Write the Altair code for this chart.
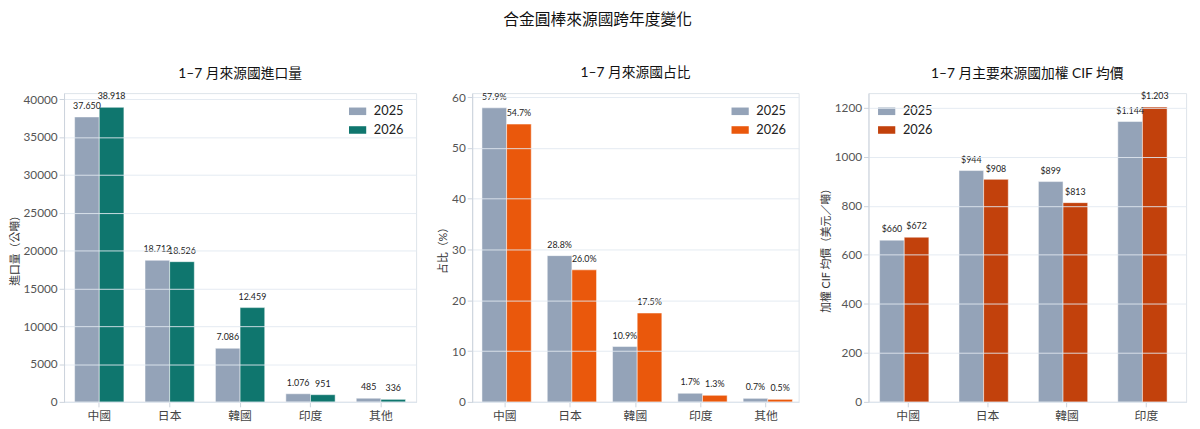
import altair as alt
import pandas as pd

years = ["2025", "2026"]

c1 = ["中國", "日本", "韓國", "印度", "其他"]
vol25 = [37650, 18712, 7086, 1076, 485]
vol26 = [38918, 18526, 12459, 951, 336]

c2 = ["中國", "日本", "韓國", "印度", "其他"]
sh25 = [57.9, 28.8, 10.9, 1.7, 0.7]
sh26 = [54.7, 26.0, 17.5, 1.3, 0.5]

c3 = ["中國", "日本", "韓國", "印度"]
pr25 = [660, 944, 899, 1144]
pr26 = [672, 908, 813, 1203]

GRAY = "#94a3b8"
TEAL = "#0f766e"
ORANGE = "#ea580c"
RUST = "#c2410c"
FONT = "Lato, 'Noto Sans CJK TC'"


def dotfmt(v):
    return f"{v:,}".replace(",", ".")


def make_df(cats, a, b, fmt):
    rows = []
    for c, v1, v2 in zip(cats, a, b):
        rows.append({"country": c, "year": "2025", "value": v1, "label": fmt(v1)})
        rows.append({"country": c, "year": "2026", "value": v2, "label": fmt(v2)})
    return pd.DataFrame(rows)


def panel(df, cats, color2, title, ytitle, ymax, tick_step, w, legend_orient, pad):
    x = alt.X("country:N", sort=cats, title=None,
              scale=alt.Scale(paddingInner=pad, paddingOuter=pad / 2),
              axis=alt.Axis(labelAngle=0, labelFontSize=12, labelColor="#444",
                            tickColor="#ccd3dc", domainColor="#ccd3dc", labelPadding=4))
    y = alt.Y("value:Q", title=ytitle,
              scale=alt.Scale(domain=[0, ymax], nice=False),
              axis=alt.Axis(values=list(range(0, int(ymax) + 1, tick_step)), format="d",
                            labelOverlap=False, labelPadding=2,
                            labelFontSize=12, labelColor="#555", titleFontSize=11,
                            titleFontWeight="normal", titleColor="#333",
                            gridColor="#e2e8f0", gridOpacity=0.9, tickColor="#ccd3dc",
                            domainColor="#ccd3dc", zindex=1, titlePadding=3))
    xo = alt.XOffset("year:N", sort=years)
    color = alt.Color("year:N", scale=alt.Scale(domain=years, range=[GRAY, color2]),
                      legend=alt.Legend(title=None, orient=legend_orient, labelFontSize=13,
                                        labelColor="#222",
                                        symbolType="M-1.6,-0.7H1.6V0.7H-1.6Z",
                                        symbolSize=120, symbolStrokeWidth=0,
                                        rowPadding=5, labelOffset=10, padding=6,
                                        offset=6))
    bars = alt.Chart(df).mark_bar(stroke="white", strokeWidth=0.5).encode(
        x=x, xOffset=xo, y=y, color=color)
    text = alt.Chart(df).mark_text(dy=-6, fontSize=9, color="#222", baseline="bottom").encode(
        x=x, xOffset=xo, y=y, text="label:N")
    return alt.layer(bars, text).properties(
        width=w, height=314,
        title=alt.TitleParams(title, fontSize=14, fontWeight="normal", color="#111", offset=12))


d1 = make_df(c1, vol25, vol26, dotfmt)
d2 = make_df(c2, sh25, sh26, lambda v: f"{v:.1f}%")
d3 = make_df(c3, pr25, pr26, lambda v: "$" + dotfmt(v))

p1 = panel(d1, c1, TEAL, "1–7 月來源國進口量", "進口量（公噸）", 40800, 5000, 358, "top-right", 0.3)
p2 = panel(d2, c2, ORANGE, "1–7 月來源國占比", "占比（%）", 60.8, 10, 332, "top-right", 0.3)
p3 = panel(d3, c3, RUST, "1–7 月主要來源國加權 CIF 均價", "加權 CIF 均價（美元／噸）", 1260, 200, 323, "top-left", 0.28)

chart = alt.hconcat(p1, p2, p3, spacing=20).resolve_scale(color="independent").properties(
    padding={"left": 0, "right": 5, "top": 0, "bottom": 2},
    title=alt.TitleParams("合金圓棒來源國跨年度變化", fontSize=16, fontWeight="normal",
                          color="#111", anchor="middle", offset=38)
).configure(font=FONT).configure_view(stroke="#dde3ea")

chart.save("out.html", embed_options={"renderer": "svg", "actions": False})
